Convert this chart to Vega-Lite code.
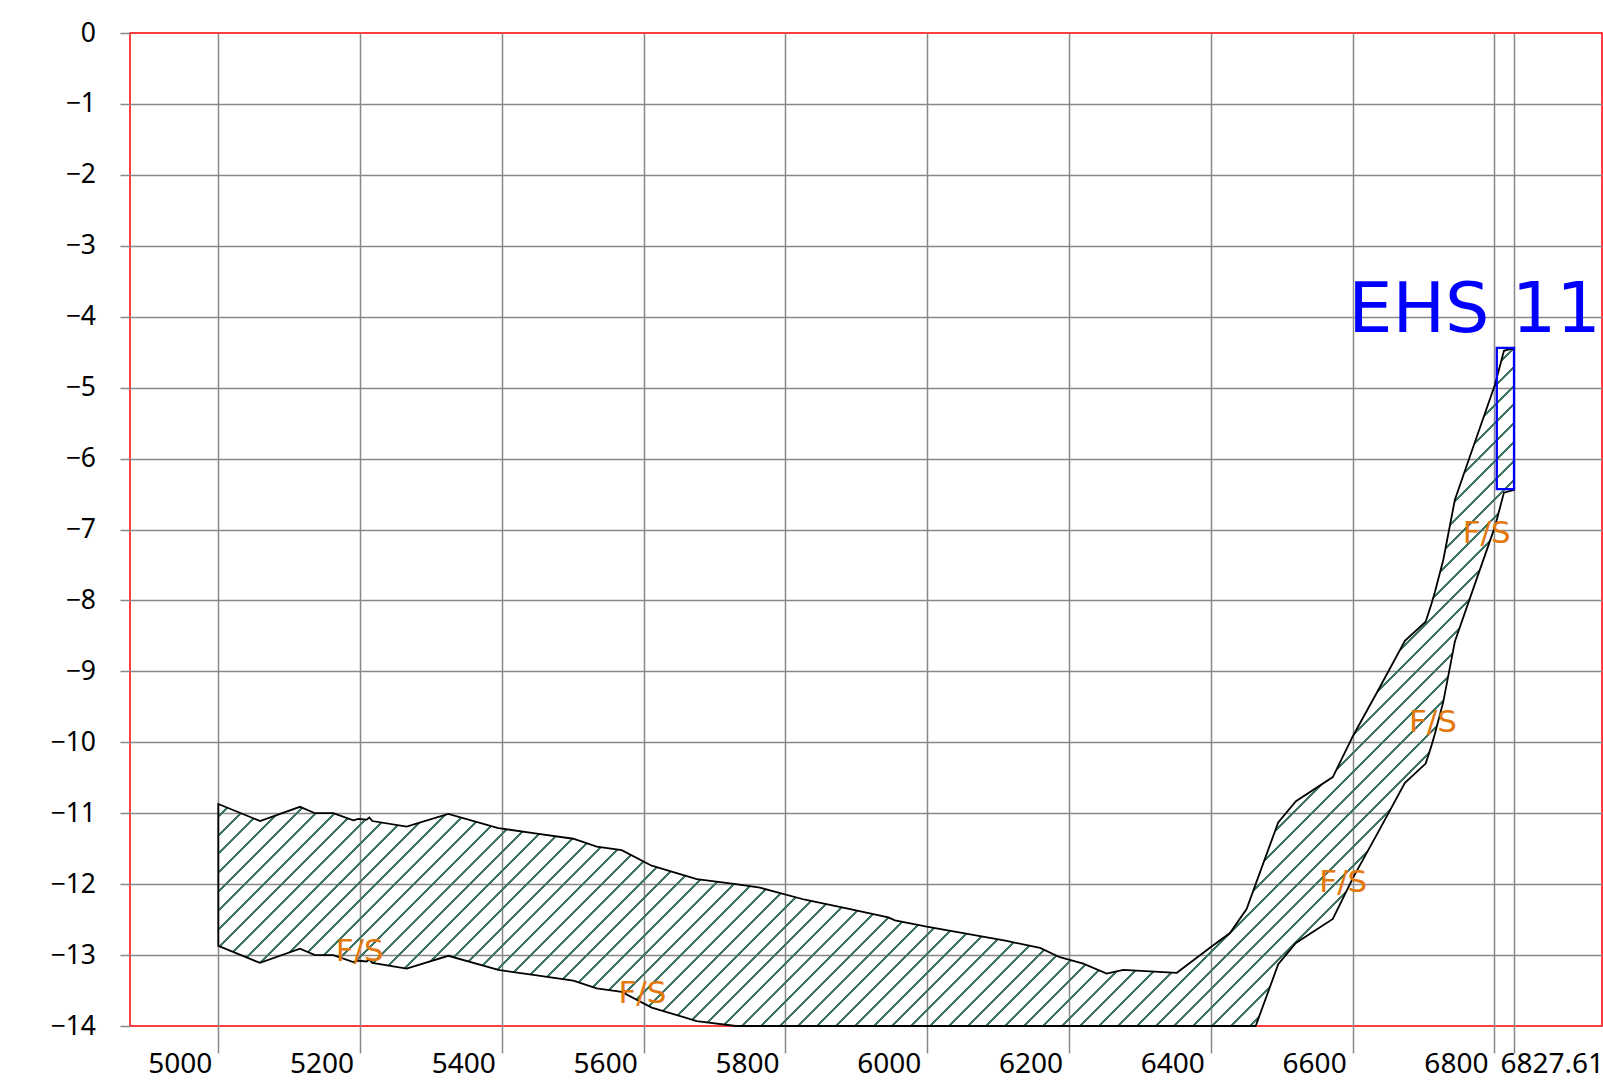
{
"$schema": "https://vega.github.io/schema/vega-lite/v6.json",
"width": 1472, "height": 993,
"autosize": "none",
"padding": {"left": 130, "top": 33, "right": 1, "bottom": 62},
"background": "white",
"config": {
 "view": {"stroke": "#ff0000", "strokeWidth": 1.5},
 "axis": {"domain": false, "title": null, "grid": true, "gridColor": "#888888", "gridWidth": 1.5, "tickColor": "#888888", "tickWidth": 1.5, "labelFont": "Noto Sans", "labelColor": "#000000", "labelOverlap": false, "labelFlush": false, "labelBound": false}
},
"datasets": {
 "band": [
  {"x":5000,"y":-10.87,"y2":-12.87},
  {"x":5058.8,"y":-11.11,"y2":-13.11},
  {"x":5115.2,"y":-10.91,"y2":-12.91},
  {"x":5136.4,"y":-11.0,"y2":-13.0},
  {"x":5162.2,"y":-11.0,"y2":-13.0},
  {"x":5190.4,"y":-11.1,"y2":-13.1},
  {"x":5197.5,"y":-11.08,"y2":-13.08},
  {"x":5209.3,"y":-11.09,"y2":-13.09},
  {"x":5213,"y":-11.06,"y2":-13.06},
  {"x":5217.2,"y":-11.11,"y2":-13.11},
  {"x":5265.7,"y":-11.19,"y2":-13.19},
  {"x":5324.4,"y":-11.01,"y2":-13.01},
  {"x":5395,"y":-11.21,"y2":-13.21},
  {"x":5444.3,"y":-11.28,"y2":-13.28},
  {"x":5500.7,"y":-11.36,"y2":-13.36},
  {"x":5533.7,"y":-11.47,"y2":-13.47},
  {"x":5569,"y":-11.52,"y2":-13.52},
  {"x":5611.3,"y":-11.74,"y2":-13.74},
  {"x":5674.8,"y":-11.93,"y2":-13.93},
  {"x":5730,"y":-12.0,"y2":-14},
  {"x":5764,"y":-12.05,"y2":-14},
  {"x":5827.5,"y":-12.22,"y2":-14},
  {"x":5886.3,"y":-12.34,"y2":-14},
  {"x":5945,"y":-12.47,"y2":-14},
  {"x":5954.4,"y":-12.51,"y2":-14},
  {"x":5999.2,"y":-12.6,"y2":-14},
  {"x":6112,"y":-12.8,"y2":-14},
  {"x":6159,"y":-12.9,"y2":-14},
  {"x":6187,"y":-13.03,"y2":-14},
  {"x":6220,"y":-13.12,"y2":-14},
  {"x":6253,"y":-13.26,"y2":-14},
  {"x":6276.5,"y":-13.21,"y2":-14},
  {"x":6352,"y":-13.25,"y2":-14},
  {"x":6401,"y":-12.88,"y2":-14},
  {"x":6427,"y":-12.69,"y2":-14},
  {"x":6450.4,"y":-12.35,"y2":-14},
  {"x":6463.2,"y":-12.0,"y2":-14},
  {"x":6495,"y":-11.13,"y2":-13.13},
  {"x":6520,"y":-10.83,"y2":-12.83},
  {"x":6572,"y":-10.49,"y2":-12.49},
  {"x":6601,"y":-9.9,"y2":-11.9},
  {"x":6638.5,"y":-9.22,"y2":-11.22},
  {"x":6673.7,"y":-8.57,"y2":-10.57},
  {"x":6703,"y":-8.3,"y2":-10.3},
  {"x":6711.4,"y":-8.04,"y2":-10.04},
  {"x":6716,"y":-7.88,"y2":-9.88},
  {"x":6727.8,"y":-7.43,"y2":-9.43},
  {"x":6744.2,"y":-6.58,"y2":-8.58},
  {"x":6767.8,"y":-5.9,"y2":-7.9},
  {"x":6800.7,"y":-4.96,"y2":-6.96},
  {"x":6813.4,"y":-4.48,"y2":-6.48},
  {"x":6827.61,"y":-4.44,"y2":-6.44}
 ],
 "box": [{"x":6803.3,"x2":6827.61,"y":-4.44,"y2":-6.43}],
 "fs": [
  {"x":5199.4,"y":-12.95,"label":"F/S"},
  {"x":5598.3,"y":-13.55,"label":"F/S"},
  {"x":6586.8,"y":-11.98,"label":"F/S"},
  {"x":6713.3,"y":-9.73,"label":"F/S"},
  {"x":6789,"y":-7.06,"label":"F/S"}
 ],
 "title": [{"x":6593.7,"y":-4.22,"label":"EHS 11"}]
},
"encoding": {
 "x": {"field":"x","type":"quantitative","scale":{"domain":[4875.45,6951.7],"nice":false,"zero":false},
  "axis":{"values":[5000,5200,5400,5600,5800,6000,6200,6400,6600,6800,6827.61],"format":".6~r","tickSize":27,"labelFontSize":28,"labelBaseline":"top","labelPadding":-3,
   "labelAlign":{"condition":{"test":"datum.value > 6810","value":"left"},"value":"right"},
   "labelOffset":{"condition":{"test":"datum.value > 6810","value":-14},"value":-6.5}}},
 "y": {"field":"y","type":"quantitative","scale":{"domain":[-14,0],"nice":false,"zero":false},
  "axis":{"values":[-14,-13,-12,-11,-10,-9,-8,-7,-6,-5,-4,-3,-2,-1,0],"tickSize":10,"labelFontSize":26.5,"labelPadding":24.5,
   "gridColor":{"condition":{"test":"datum.value == 0 || datum.value == -14","value":"transparent"},"value":"#888888"}}}
},
"layer": [
 {"data":{"name":"band"},
  "mark":{"type":"area","stroke":"#000000","strokeWidth":1.8,
   "fill":{"gradient":"linear","x1":-0.00091,"y1":-0.00048,"x2":1.26473,"y2":0.66179,"stops":[
{"offset":0,"color":"#3f7563"},{"offset":0.0007,"color":"#3f7563"},{"offset":0.0007,"color":"transparent"},
{"offset":0.0083,"color":"transparent"},{"offset":0.0083,"color":"#3f7563"},{"offset":0.0097,"color":"#3f7563"},{"offset":0.0097,"color":"transparent"},
{"offset":0.0173,"color":"transparent"},{"offset":0.0173,"color":"#3f7563"},{"offset":0.0187,"color":"#3f7563"},{"offset":0.0187,"color":"transparent"},
{"offset":0.0263,"color":"transparent"},{"offset":0.0263,"color":"#3f7563"},{"offset":0.0277,"color":"#3f7563"},{"offset":0.0277,"color":"transparent"},
{"offset":0.0353,"color":"transparent"},{"offset":0.0353,"color":"#3f7563"},{"offset":0.0367,"color":"#3f7563"},{"offset":0.0367,"color":"transparent"},
{"offset":0.0443,"color":"transparent"},{"offset":0.0443,"color":"#3f7563"},{"offset":0.0457,"color":"#3f7563"},{"offset":0.0457,"color":"transparent"},
{"offset":0.0533,"color":"transparent"},{"offset":0.0533,"color":"#3f7563"},{"offset":0.0547,"color":"#3f7563"},{"offset":0.0547,"color":"transparent"},
{"offset":0.0623,"color":"transparent"},{"offset":0.0623,"color":"#3f7563"},{"offset":0.0637,"color":"#3f7563"},{"offset":0.0637,"color":"transparent"},
{"offset":0.0713,"color":"transparent"},{"offset":0.0713,"color":"#3f7563"},{"offset":0.0727,"color":"#3f7563"},{"offset":0.0727,"color":"transparent"},
{"offset":0.0803,"color":"transparent"},{"offset":0.0803,"color":"#3f7563"},{"offset":0.0817,"color":"#3f7563"},{"offset":0.0817,"color":"transparent"},
{"offset":0.0893,"color":"transparent"},{"offset":0.0893,"color":"#3f7563"},{"offset":0.0907,"color":"#3f7563"},{"offset":0.0907,"color":"transparent"},
{"offset":0.0983,"color":"transparent"},{"offset":0.0983,"color":"#3f7563"},{"offset":0.0997,"color":"#3f7563"},{"offset":0.0997,"color":"transparent"},
{"offset":0.1073,"color":"transparent"},{"offset":0.1073,"color":"#3f7563"},{"offset":0.1087,"color":"#3f7563"},{"offset":0.1087,"color":"transparent"},
{"offset":0.1163,"color":"transparent"},{"offset":0.1163,"color":"#3f7563"},{"offset":0.1177,"color":"#3f7563"},{"offset":0.1177,"color":"transparent"},
{"offset":0.1253,"color":"transparent"},{"offset":0.1253,"color":"#3f7563"},{"offset":0.1267,"color":"#3f7563"},{"offset":0.1267,"color":"transparent"},
{"offset":0.1343,"color":"transparent"},{"offset":0.1343,"color":"#3f7563"},{"offset":0.1357,"color":"#3f7563"},{"offset":0.1357,"color":"transparent"},
{"offset":0.1433,"color":"transparent"},{"offset":0.1433,"color":"#3f7563"},{"offset":0.1447,"color":"#3f7563"},{"offset":0.1447,"color":"transparent"},
{"offset":0.1523,"color":"transparent"},{"offset":0.1523,"color":"#3f7563"},{"offset":0.1537,"color":"#3f7563"},{"offset":0.1537,"color":"transparent"},
{"offset":0.1613,"color":"transparent"},{"offset":0.1613,"color":"#3f7563"},{"offset":0.1627,"color":"#3f7563"},{"offset":0.1627,"color":"transparent"},
{"offset":0.1703,"color":"transparent"},{"offset":0.1703,"color":"#3f7563"},{"offset":0.1717,"color":"#3f7563"},{"offset":0.1717,"color":"transparent"},
{"offset":0.1793,"color":"transparent"},{"offset":0.1793,"color":"#3f7563"},{"offset":0.1807,"color":"#3f7563"},{"offset":0.1807,"color":"transparent"},
{"offset":0.1883,"color":"transparent"},{"offset":0.1883,"color":"#3f7563"},{"offset":0.1897,"color":"#3f7563"},{"offset":0.1897,"color":"transparent"},
{"offset":0.1973,"color":"transparent"},{"offset":0.1973,"color":"#3f7563"},{"offset":0.1987,"color":"#3f7563"},{"offset":0.1987,"color":"transparent"},
{"offset":0.2063,"color":"transparent"},{"offset":0.2063,"color":"#3f7563"},{"offset":0.2077,"color":"#3f7563"},{"offset":0.2077,"color":"transparent"},
{"offset":0.2153,"color":"transparent"},{"offset":0.2153,"color":"#3f7563"},{"offset":0.2167,"color":"#3f7563"},{"offset":0.2167,"color":"transparent"},
{"offset":0.2243,"color":"transparent"},{"offset":0.2243,"color":"#3f7563"},{"offset":0.2257,"color":"#3f7563"},{"offset":0.2257,"color":"transparent"},
{"offset":0.2333,"color":"transparent"},{"offset":0.2333,"color":"#3f7563"},{"offset":0.2347,"color":"#3f7563"},{"offset":0.2347,"color":"transparent"},
{"offset":0.2423,"color":"transparent"},{"offset":0.2423,"color":"#3f7563"},{"offset":0.2437,"color":"#3f7563"},{"offset":0.2437,"color":"transparent"},
{"offset":0.2513,"color":"transparent"},{"offset":0.2513,"color":"#3f7563"},{"offset":0.2527,"color":"#3f7563"},{"offset":0.2527,"color":"transparent"},
{"offset":0.2603,"color":"transparent"},{"offset":0.2603,"color":"#3f7563"},{"offset":0.2617,"color":"#3f7563"},{"offset":0.2617,"color":"transparent"},
{"offset":0.2693,"color":"transparent"},{"offset":0.2693,"color":"#3f7563"},{"offset":0.2707,"color":"#3f7563"},{"offset":0.2707,"color":"transparent"},
{"offset":0.2783,"color":"transparent"},{"offset":0.2783,"color":"#3f7563"},{"offset":0.2797,"color":"#3f7563"},{"offset":0.2797,"color":"transparent"},
{"offset":0.2873,"color":"transparent"},{"offset":0.2873,"color":"#3f7563"},{"offset":0.2887,"color":"#3f7563"},{"offset":0.2887,"color":"transparent"},
{"offset":0.2963,"color":"transparent"},{"offset":0.2963,"color":"#3f7563"},{"offset":0.2977,"color":"#3f7563"},{"offset":0.2977,"color":"transparent"},
{"offset":0.3053,"color":"transparent"},{"offset":0.3053,"color":"#3f7563"},{"offset":0.3067,"color":"#3f7563"},{"offset":0.3067,"color":"transparent"},
{"offset":0.3143,"color":"transparent"},{"offset":0.3143,"color":"#3f7563"},{"offset":0.3157,"color":"#3f7563"},{"offset":0.3157,"color":"transparent"},
{"offset":0.3233,"color":"transparent"},{"offset":0.3233,"color":"#3f7563"},{"offset":0.3247,"color":"#3f7563"},{"offset":0.3247,"color":"transparent"},
{"offset":0.3323,"color":"transparent"},{"offset":0.3323,"color":"#3f7563"},{"offset":0.3337,"color":"#3f7563"},{"offset":0.3337,"color":"transparent"},
{"offset":0.3413,"color":"transparent"},{"offset":0.3413,"color":"#3f7563"},{"offset":0.3427,"color":"#3f7563"},{"offset":0.3427,"color":"transparent"},
{"offset":0.3503,"color":"transparent"},{"offset":0.3503,"color":"#3f7563"},{"offset":0.3517,"color":"#3f7563"},{"offset":0.3517,"color":"transparent"},
{"offset":0.3593,"color":"transparent"},{"offset":0.3593,"color":"#3f7563"},{"offset":0.3607,"color":"#3f7563"},{"offset":0.3607,"color":"transparent"},
{"offset":0.3683,"color":"transparent"},{"offset":0.3683,"color":"#3f7563"},{"offset":0.3697,"color":"#3f7563"},{"offset":0.3697,"color":"transparent"},
{"offset":0.3773,"color":"transparent"},{"offset":0.3773,"color":"#3f7563"},{"offset":0.3787,"color":"#3f7563"},{"offset":0.3787,"color":"transparent"},
{"offset":0.3863,"color":"transparent"},{"offset":0.3863,"color":"#3f7563"},{"offset":0.3877,"color":"#3f7563"},{"offset":0.3877,"color":"transparent"},
{"offset":0.3953,"color":"transparent"},{"offset":0.3953,"color":"#3f7563"},{"offset":0.3967,"color":"#3f7563"},{"offset":0.3967,"color":"transparent"},
{"offset":0.4043,"color":"transparent"},{"offset":0.4043,"color":"#3f7563"},{"offset":0.4057,"color":"#3f7563"},{"offset":0.4057,"color":"transparent"},
{"offset":0.4133,"color":"transparent"},{"offset":0.4133,"color":"#3f7563"},{"offset":0.4147,"color":"#3f7563"},{"offset":0.4147,"color":"transparent"},
{"offset":0.4223,"color":"transparent"},{"offset":0.4223,"color":"#3f7563"},{"offset":0.4237,"color":"#3f7563"},{"offset":0.4237,"color":"transparent"},
{"offset":0.4313,"color":"transparent"},{"offset":0.4313,"color":"#3f7563"},{"offset":0.4327,"color":"#3f7563"},{"offset":0.4327,"color":"transparent"},
{"offset":0.4403,"color":"transparent"},{"offset":0.4403,"color":"#3f7563"},{"offset":0.4417,"color":"#3f7563"},{"offset":0.4417,"color":"transparent"},
{"offset":0.4493,"color":"transparent"},{"offset":0.4493,"color":"#3f7563"},{"offset":0.4507,"color":"#3f7563"},{"offset":0.4507,"color":"transparent"},
{"offset":0.4583,"color":"transparent"},{"offset":0.4583,"color":"#3f7563"},{"offset":0.4597,"color":"#3f7563"},{"offset":0.4597,"color":"transparent"},
{"offset":0.4673,"color":"transparent"},{"offset":0.4673,"color":"#3f7563"},{"offset":0.4687,"color":"#3f7563"},{"offset":0.4687,"color":"transparent"},
{"offset":0.4763,"color":"transparent"},{"offset":0.4763,"color":"#3f7563"},{"offset":0.4777,"color":"#3f7563"},{"offset":0.4777,"color":"transparent"},
{"offset":0.4853,"color":"transparent"},{"offset":0.4853,"color":"#3f7563"},{"offset":0.4867,"color":"#3f7563"},{"offset":0.4867,"color":"transparent"},
{"offset":0.4943,"color":"transparent"},{"offset":0.4943,"color":"#3f7563"},{"offset":0.4957,"color":"#3f7563"},{"offset":0.4957,"color":"transparent"},
{"offset":0.5033,"color":"transparent"},{"offset":0.5033,"color":"#3f7563"},{"offset":0.5047,"color":"#3f7563"},{"offset":0.5047,"color":"transparent"},
{"offset":0.5123,"color":"transparent"},{"offset":0.5123,"color":"#3f7563"},{"offset":0.5137,"color":"#3f7563"},{"offset":0.5137,"color":"transparent"},
{"offset":0.5213,"color":"transparent"},{"offset":0.5213,"color":"#3f7563"},{"offset":0.5227,"color":"#3f7563"},{"offset":0.5227,"color":"transparent"},
{"offset":0.5303,"color":"transparent"},{"offset":0.5303,"color":"#3f7563"},{"offset":0.5317,"color":"#3f7563"},{"offset":0.5317,"color":"transparent"},
{"offset":0.5393,"color":"transparent"},{"offset":0.5393,"color":"#3f7563"},{"offset":0.5407,"color":"#3f7563"},{"offset":0.5407,"color":"transparent"},
{"offset":0.5483,"color":"transparent"},{"offset":0.5483,"color":"#3f7563"},{"offset":0.5497,"color":"#3f7563"},{"offset":0.5497,"color":"transparent"},
{"offset":0.5573,"color":"transparent"},{"offset":0.5573,"color":"#3f7563"},{"offset":0.5587,"color":"#3f7563"},{"offset":0.5587,"color":"transparent"},
{"offset":0.5663,"color":"transparent"},{"offset":0.5663,"color":"#3f7563"},{"offset":0.5677,"color":"#3f7563"},{"offset":0.5677,"color":"transparent"},
{"offset":0.5753,"color":"transparent"},{"offset":0.5753,"color":"#3f7563"},{"offset":0.5767,"color":"#3f7563"},{"offset":0.5767,"color":"transparent"},
{"offset":0.5843,"color":"transparent"},{"offset":0.5843,"color":"#3f7563"},{"offset":0.5857,"color":"#3f7563"},{"offset":0.5857,"color":"transparent"},
{"offset":0.5933,"color":"transparent"},{"offset":0.5933,"color":"#3f7563"},{"offset":0.5947,"color":"#3f7563"},{"offset":0.5947,"color":"transparent"},
{"offset":0.6023,"color":"transparent"},{"offset":0.6023,"color":"#3f7563"},{"offset":0.6037,"color":"#3f7563"},{"offset":0.6037,"color":"transparent"},
{"offset":0.6113,"color":"transparent"},{"offset":0.6113,"color":"#3f7563"},{"offset":0.6127,"color":"#3f7563"},{"offset":0.6127,"color":"transparent"},
{"offset":0.6203,"color":"transparent"},{"offset":0.6203,"color":"#3f7563"},{"offset":0.6217,"color":"#3f7563"},{"offset":0.6217,"color":"transparent"},
{"offset":0.6293,"color":"transparent"},{"offset":0.6293,"color":"#3f7563"},{"offset":0.6307,"color":"#3f7563"},{"offset":0.6307,"color":"transparent"},
{"offset":0.6383,"color":"transparent"},{"offset":0.6383,"color":"#3f7563"},{"offset":0.6397,"color":"#3f7563"},{"offset":0.6397,"color":"transparent"},
{"offset":0.6473,"color":"transparent"},{"offset":0.6473,"color":"#3f7563"},{"offset":0.6487,"color":"#3f7563"},{"offset":0.6487,"color":"transparent"},
{"offset":0.6563,"color":"transparent"},{"offset":0.6563,"color":"#3f7563"},{"offset":0.6577,"color":"#3f7563"},{"offset":0.6577,"color":"transparent"},
{"offset":0.6653,"color":"transparent"},{"offset":0.6653,"color":"#3f7563"},{"offset":0.6667,"color":"#3f7563"},{"offset":0.6667,"color":"transparent"},
{"offset":0.6743,"color":"transparent"},{"offset":0.6743,"color":"#3f7563"},{"offset":0.6757,"color":"#3f7563"},{"offset":0.6757,"color":"transparent"},
{"offset":0.6833,"color":"transparent"},{"offset":0.6833,"color":"#3f7563"},{"offset":0.6847,"color":"#3f7563"},{"offset":0.6847,"color":"transparent"},
{"offset":0.6923,"color":"transparent"},{"offset":0.6923,"color":"#3f7563"},{"offset":0.6937,"color":"#3f7563"},{"offset":0.6937,"color":"transparent"},
{"offset":0.7013,"color":"transparent"},{"offset":0.7013,"color":"#3f7563"},{"offset":0.7027,"color":"#3f7563"},{"offset":0.7027,"color":"transparent"},
{"offset":0.7103,"color":"transparent"},{"offset":0.7103,"color":"#3f7563"},{"offset":0.7117,"color":"#3f7563"},{"offset":0.7117,"color":"transparent"},
{"offset":0.7193,"color":"transparent"},{"offset":0.7193,"color":"#3f7563"},{"offset":0.7207,"color":"#3f7563"},{"offset":0.7207,"color":"transparent"},
{"offset":0.7283,"color":"transparent"},{"offset":0.7283,"color":"#3f7563"},{"offset":0.7297,"color":"#3f7563"},{"offset":0.7297,"color":"transparent"},
{"offset":0.7373,"color":"transparent"},{"offset":0.7373,"color":"#3f7563"},{"offset":0.7387,"color":"#3f7563"},{"offset":0.7387,"color":"transparent"},
{"offset":0.7463,"color":"transparent"},{"offset":0.7463,"color":"#3f7563"},{"offset":0.7477,"color":"#3f7563"},{"offset":0.7477,"color":"transparent"},
{"offset":0.7553,"color":"transparent"},{"offset":0.7553,"color":"#3f7563"},{"offset":0.7567,"color":"#3f7563"},{"offset":0.7567,"color":"transparent"},
{"offset":0.7643,"color":"transparent"},{"offset":0.7643,"color":"#3f7563"},{"offset":0.7657,"color":"#3f7563"},{"offset":0.7657,"color":"transparent"},
{"offset":0.7733,"color":"transparent"},{"offset":0.7733,"color":"#3f7563"},{"offset":0.7747,"color":"#3f7563"},{"offset":0.7747,"color":"transparent"},
{"offset":0.7823,"color":"transparent"},{"offset":0.7823,"color":"#3f7563"},{"offset":0.7837,"color":"#3f7563"},{"offset":0.7837,"color":"transparent"},
{"offset":0.7913,"color":"transparent"},{"offset":0.7913,"color":"#3f7563"},{"offset":0.7927,"color":"#3f7563"},{"offset":0.7927,"color":"transparent"},
{"offset":0.8003,"color":"transparent"},{"offset":0.8003,"color":"#3f7563"},{"offset":0.8017,"color":"#3f7563"},{"offset":0.8017,"color":"transparent"},
{"offset":0.8093,"color":"transparent"},{"offset":0.8093,"color":"#3f7563"},{"offset":0.8107,"color":"#3f7563"},{"offset":0.8107,"color":"transparent"},
{"offset":0.8183,"color":"transparent"},{"offset":0.8183,"color":"#3f7563"},{"offset":0.8197,"color":"#3f7563"},{"offset":0.8197,"color":"transparent"},
{"offset":0.8273,"color":"transparent"},{"offset":0.8273,"color":"#3f7563"},{"offset":0.8287,"color":"#3f7563"},{"offset":0.8287,"color":"transparent"},
{"offset":0.8363,"color":"transparent"},{"offset":0.8363,"color":"#3f7563"},{"offset":0.8377,"color":"#3f7563"},{"offset":0.8377,"color":"transparent"},
{"offset":0.8453,"color":"transparent"},{"offset":0.8453,"color":"#3f7563"},{"offset":0.8467,"color":"#3f7563"},{"offset":0.8467,"color":"transparent"},
{"offset":0.8543,"color":"transparent"},{"offset":0.8543,"color":"#3f7563"},{"offset":0.8557,"color":"#3f7563"},{"offset":0.8557,"color":"transparent"},
{"offset":0.8633,"color":"transparent"},{"offset":0.8633,"color":"#3f7563"},{"offset":0.8647,"color":"#3f7563"},{"offset":0.8647,"color":"transparent"},
{"offset":0.8723,"color":"transparent"},{"offset":0.8723,"color":"#3f7563"},{"offset":0.8737,"color":"#3f7563"},{"offset":0.8737,"color":"transparent"},
{"offset":0.8813,"color":"transparent"},{"offset":0.8813,"color":"#3f7563"},{"offset":0.8827,"color":"#3f7563"},{"offset":0.8827,"color":"transparent"},
{"offset":0.8903,"color":"transparent"},{"offset":0.8903,"color":"#3f7563"},{"offset":0.8917,"color":"#3f7563"},{"offset":0.8917,"color":"transparent"},
{"offset":0.8993,"color":"transparent"},{"offset":0.8993,"color":"#3f7563"},{"offset":0.9007,"color":"#3f7563"},{"offset":0.9007,"color":"transparent"},
{"offset":0.9083,"color":"transparent"},{"offset":0.9083,"color":"#3f7563"},{"offset":0.9097,"color":"#3f7563"},{"offset":0.9097,"color":"transparent"},
{"offset":0.9173,"color":"transparent"},{"offset":0.9173,"color":"#3f7563"},{"offset":0.9187,"color":"#3f7563"},{"offset":0.9187,"color":"transparent"},
{"offset":0.9263,"color":"transparent"},{"offset":0.9263,"color":"#3f7563"},{"offset":0.9277,"color":"#3f7563"},{"offset":0.9277,"color":"transparent"},
{"offset":0.9353,"color":"transparent"},{"offset":0.9353,"color":"#3f7563"},{"offset":0.9367,"color":"#3f7563"},{"offset":0.9367,"color":"transparent"},
{"offset":0.9443,"color":"transparent"},{"offset":0.9443,"color":"#3f7563"},{"offset":0.9457,"color":"#3f7563"},{"offset":0.9457,"color":"transparent"}
   ]}},
  "encoding":{"y2":{"field":"y2"}}},
 {"data":{"name":"box"},
  "mark":{"type":"rect","fill":"transparent","stroke":"#0000ff","strokeWidth":2.3},
  "encoding":{"x2":{"field":"x2"},"y2":{"field":"y2"}}},
 {"data":{"name":"fs"},
  "mark":{"type":"text","font":"DejaVu Sans","fontSize":31,"color":"#e3780c","align":"center","baseline":"middle"},
  "encoding":{"text":{"field":"label"}}},
 {"data":{"name":"title"},
  "mark":{"type":"text","font":"DejaVu Sans","fontSize":70,"color":"#0000ff","align":"left","baseline":"alphabetic"},
  "encoding":{"text":{"field":"label"}}}
]
}
